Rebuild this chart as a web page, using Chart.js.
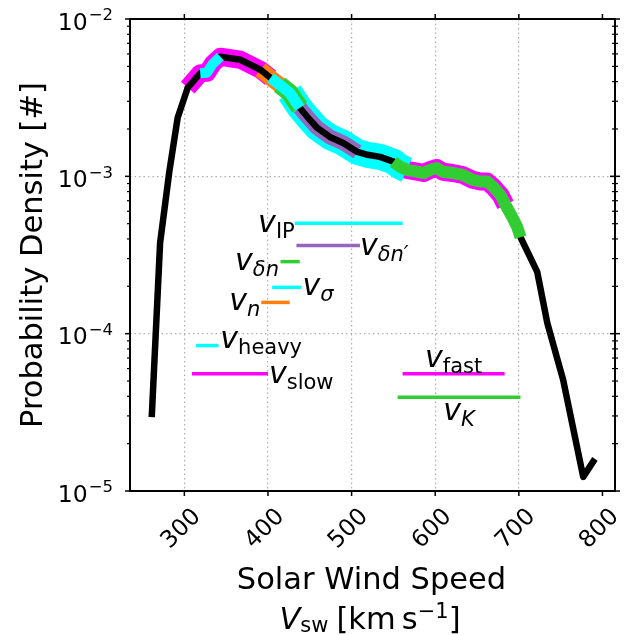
<!DOCTYPE html>
<html>
<head>
<meta charset="utf-8">
<script src="https://cdn.jsdelivr.net/npm/chart.js@4/dist/chart.umd.min.js"></script>
<style>
  html, body { margin: 0; padding: 0; background: #ffffff; }
  canvas { display: block; }
</style>
</head>
<body>
<canvas id="chart" width="635" height="635"></canvas>
<script>
// Probability density of the solar wind speed (km/s)
const speed = [261, 271, 282, 292, 304, 319, 327, 334, 343, 355, 367, 379, 391, 403, 414, 426,
               438, 447, 459, 474, 490, 507, 519, 534, 550, 558, 566, 578, 586, 594, 602, 609,
               621, 633, 645, 654, 662, 669, 678, 684, 692, 698, 702, 722, 734, 753, 777, 791];
const density = [2.95e-5, 3.78e-4, 1.07e-3, 2.36e-3, 3.66e-3, 4.52e-3, 4.55e-3, 5.19e-3, 5.76e-3, 5.63e-3,
                 5.51e-3, 5.12e-3, 4.76e-3, 4.23e-3, 3.82e-3, 3.40e-3, 2.73e-3, 2.39e-3, 2.03e-3, 1.78e-3,
                 1.63e-3, 1.43e-3, 1.37e-3, 1.33e-3, 1.24e-3, 1.15e-3, 1.10e-3, 1.07e-3, 1.05e-3, 1.10e-3,
                 1.13e-3, 1.07e-3, 1.05e-3, 1.02e-3, 9.5e-4, 9.27e-4, 9.27e-4, 8.61e-4, 7.62e-4, 6.59e-4,
                 5.53e-4, 4.77e-4, 4.1e-4, 2.47e-4, 1.17e-4, 5.08e-5, 1.23e-5, 1.60e-5];

// Characteristic speed ranges: lower / upper bound and the level of the marker bar
const rangeKeys  = ['slow', 'fast', 'n', 'IP', 'dnp', 'dn', 'sigma', 'heavy', 'K'];
const rangeLo    = [309, 561, 392, 432, 434, 415, 405, 314, 555];
const rangeHi    = [400, 683, 426, 561, 510, 438, 440, 341, 702];
const rangeLevel = [5.57e-5, 5.57e-5, 1.58e-4, 5.04e-4, 3.63e-4, 2.87e-4, 1.97e-4, 8.4e-5, 3.95e-5];

// Axis ticks
const xTicks = [300, 400, 500, 600, 700, 800];
const yDecades = [-5, -4, -3, -2];

// half of a speed bin, used to pick the curve points that fall in a range
const binHalf = 6;

const MAGENTA = '#ff00ff', CYAN = '#00ffff', ORANGE = '#ff7f0e', GREEN = '#32cd32', PURPLE = '#9467bd';

// per-range styling: colour, highlight width, label text and placement
const rangeStyle = {
  slow:  { color: MAGENTA, width: 18, sub: 'slow', subItalic: false, at: 'hi',  align: 'left',   dx: 1,    dy: 9 },
  fast:  { color: MAGENTA, width: 18, sub: 'fast', subItalic: false, at: 'mid', align: 'center', dx: 0,    dy: -6.5 },
  n:     { color: ORANGE,  width: 16, sub: 'n',    subItalic: true,  at: 'lo',  align: 'right',  dx: -1,   dy: 7.7 },
  IP:    { color: CYAN,    width: 26, sub: 'IP',   subItalic: false, at: 'lo',  align: 'right',  dx: 0,    dy: 8.4 },
  dnp:   { color: PURPLE,  width: 15, sub: 'δn′',  subItalic: true,  at: 'hi',  align: 'left',   dx: 0,    dy: 9.3 },
  dn:    { color: GREEN,   width: 18, sub: 'δn',   subItalic: true,  at: 'lo',  align: 'right',  dx: -1.5, dy: 8.3 },
  sigma: { color: CYAN,    width: 11, sub: 'σ',    subItalic: true,  at: 'hi',  align: 'left',   dx: 1,    dy: 7.7 },
  heavy: { color: CYAN,    width: 10, sub: 'heavy',subItalic: false, at: 'hi',  align: 'left',   dx: 1.7,  dy: 2.6 },
  K:     { color: GREEN,   width: 12, sub: 'K',    subItalic: true,  at: 'mid', align: 'center', dx: 0,    dy: 23 }
};

// stacking of the highlighted curve pieces, bottom to top ('curve' is the full black line)
const layering = ['slow', 'fast', 'n', 'IP', 'dnp', 'curve', 'dn', 'sigma', 'heavy', 'K'];

const curvePoints = speed.map((v, i) => ({ x: v, y: density[i] }));

function segmentPoints(k) {
  const i = rangeKeys.indexOf(k);
  return curvePoints.filter(p => p.x >= rangeLo[i] - binHalf && p.x <= rangeHi[i] + binHalf);
}

const datasets = [];
const nLayers = layering.length;
layering.forEach((k, li) => {
  const order = nLayers - li + 20;
  if (k === 'curve') {
    datasets.push({
      data: curvePoints, borderColor: '#000000', borderWidth: 6.5,
      borderJoinStyle: 'round', order
    });
  } else {
    const s = rangeStyle[k];
    datasets.push({
      data: segmentPoints(k), borderColor: s.color, borderWidth: s.width,
      borderJoinStyle: 'round', order
    });
  }
});
// range marker bars
rangeKeys.forEach((k, i) => {
  datasets.push({
    data: [{ x: rangeLo[i], y: rangeLevel[i] }, { x: rangeHi[i], y: rangeLevel[i] }],
    borderColor: rangeStyle[k].color, borderWidth: 3.5, order: 5
  });
});

const FONT = '"DejaVu Sans", sans-serif';

function drawPieces(ctx, pieces, x, y, align) {
  let w = 0;
  const widths = pieces.map(p => {
    ctx.font = p.font;
    const pw = ctx.measureText(p.t).width;
    w += pw + (p.gap || 0);
    return pw;
  });
  let cx = align === 'right' ? x - w : align === 'center' ? x - w / 2 : x;
  pieces.forEach((p, i) => {
    cx += p.gap || 0;
    ctx.font = p.font;
    ctx.fillText(p.t, cx, y + (p.dy || 0));
    cx += widths[i];
  });
}

const decorations = {
  id: 'decorations',
  afterDraw(chart) {
    const ctx = chart.ctx;
    const { left, right, top, bottom } = chart.chartArea;
    const xs = chart.scales.x, ys = chart.scales.y;
    ctx.save();
    ctx.fillStyle = '#000000';
    ctx.strokeStyle = '#000000';
    ctx.textAlign = 'left';
    ctx.textBaseline = 'alphabetic';

    const seg = (x1, y1, x2, y2) => { ctx.beginPath(); ctx.moveTo(x1, y1); ctx.lineTo(x2, y2); ctx.stroke(); };

    // frame
    ctx.lineWidth = 2;
    ctx.strokeRect(left, top, right - left, bottom - top);

    // x tick marks and labels
    ctx.lineWidth = 1.5;
    xTicks.forEach(v => {
      const p = xs.getPixelForValue(v);
      seg(p, bottom, p, bottom + 5);
      seg(p, top, p, top - 5);
      ctx.save();
      ctx.translate(p - 3, 529);
      ctx.rotate(-Math.PI / 4);
      ctx.font = '23.5px ' + FONT;
      ctx.textAlign = 'center';
      ctx.textBaseline = 'middle';
      ctx.fillText(String(v), 0, 0);
      ctx.restore();
    });

    // y tick marks (decades and minor subdivisions)
    for (let e = yDecades[0]; e <= yDecades[yDecades.length - 1]; e++) {
      for (let m = 1; m <= 9; m++) {
        if (e === yDecades[yDecades.length - 1] && m > 1) break;
        const p = ys.getPixelForValue(m * Math.pow(10, e));
        const len = m === 1 ? 5 : 3;
        ctx.lineWidth = m === 1 ? 1.5 : 1.2;
        seg(left - len, p, left, p);
        seg(right - len, p, right + len, p);
      }
    }
    // y tick labels 10^e
    yDecades.forEach(e => {
      const p = ys.getPixelForValue(Math.pow(10, e));
      const expText = '\u2212' + String(-e);
      ctx.font = '16.5px ' + FONT;
      const ew = ctx.measureText(expText).width;
      ctx.textAlign = 'right';
      ctx.fillText(expText, 113, p + 1.4);
      ctx.font = '23.5px ' + FONT;
      ctx.fillText('10', 113 - ew - 1, p + 10.7);
    });
    ctx.textAlign = 'left';

    // axis titles
    ctx.font = '30.5px ' + FONT;
    ctx.textAlign = 'center';
    ctx.fillText('Solar Wind Speed', 371.5, 589);
    ctx.textAlign = 'left';
    drawPieces(ctx, [
      { t: 'V', font: 'italic 30.5px ' + FONT },
      { t: 'sw', font: '21px ' + FONT, dy: 3 },
      { t: '[km\u2009s', font: '30.5px ' + FONT, gap: 8 },
      { t: '\u22121', font: '21px ' + FONT, dy: -11.5 },
      { t: ']', font: '30.5px ' + FONT }
    ], 370, 629, 'center');

    ctx.save();
    ctx.translate(42, (top + bottom) / 2);
    ctx.rotate(-Math.PI / 2);
    ctx.font = '30.5px ' + FONT;
    ctx.textAlign = 'center';
    ctx.fillText('Probability Density [#]', 0, 0);
    ctx.restore();

    // range labels v_sub
    rangeKeys.forEach((k, i) => {
      const s = rangeStyle[k];
      const px = s.at === 'lo' ? xs.getPixelForValue(rangeLo[i])
               : s.at === 'hi' ? xs.getPixelForValue(rangeHi[i])
               : (xs.getPixelForValue(rangeLo[i]) + xs.getPixelForValue(rangeHi[i])) / 2;
      const py = ys.getPixelForValue(rangeLevel[i]);
      drawPieces(ctx, [
        { t: 'v', font: 'italic 30px ' + FONT },
        { t: s.sub, font: (s.subItalic ? 'italic ' : '') + '21px ' + FONT, dy: 6 }
      ], px + s.dx, py + s.dy, s.align);
    });

    ctx.restore();
  }
};

new Chart(document.getElementById('chart'), {
  type: 'scatter',
  data: { datasets },
  options: {
    responsive: false,
    devicePixelRatio: 1,
    animation: false,
    layout: { padding: { left: 130, top: 19, right: 20, bottom: 144 } },
    elements: {
      point: { radius: 0, hoverRadius: 0 },
      line: { tension: 0, borderCapStyle: 'butt', fill: false }
    },
    datasets: { scatter: { showLine: true } },
    plugins: { legend: { display: false }, tooltip: { enabled: false } },
    scales: {
      x: {
        type: 'linear', min: 235, max: 815,
        ticks: { display: false, stepSize: 100 },
        grid: { color: '#b0b0b0', lineWidth: 1.2, drawTicks: false },
        border: { display: false, dash: [1.5, 3] }
      },
      y: {
        type: 'logarithmic', min: 1e-5, max: 1e-2,
        ticks: { display: false },
        grid: {
          lineWidth: 1.2, drawTicks: false,
          color: (c) => {
            const l = Math.log10(c.tick.value);
            return Math.abs(l - Math.round(l)) < 1e-6 ? '#b0b0b0' : 'rgba(0,0,0,0)';
          }
        },
        border: { display: false, dash: [1.5, 3] }
      }
    }
  },
  plugins: [decorations]
});
</script>
</body>
</html>
